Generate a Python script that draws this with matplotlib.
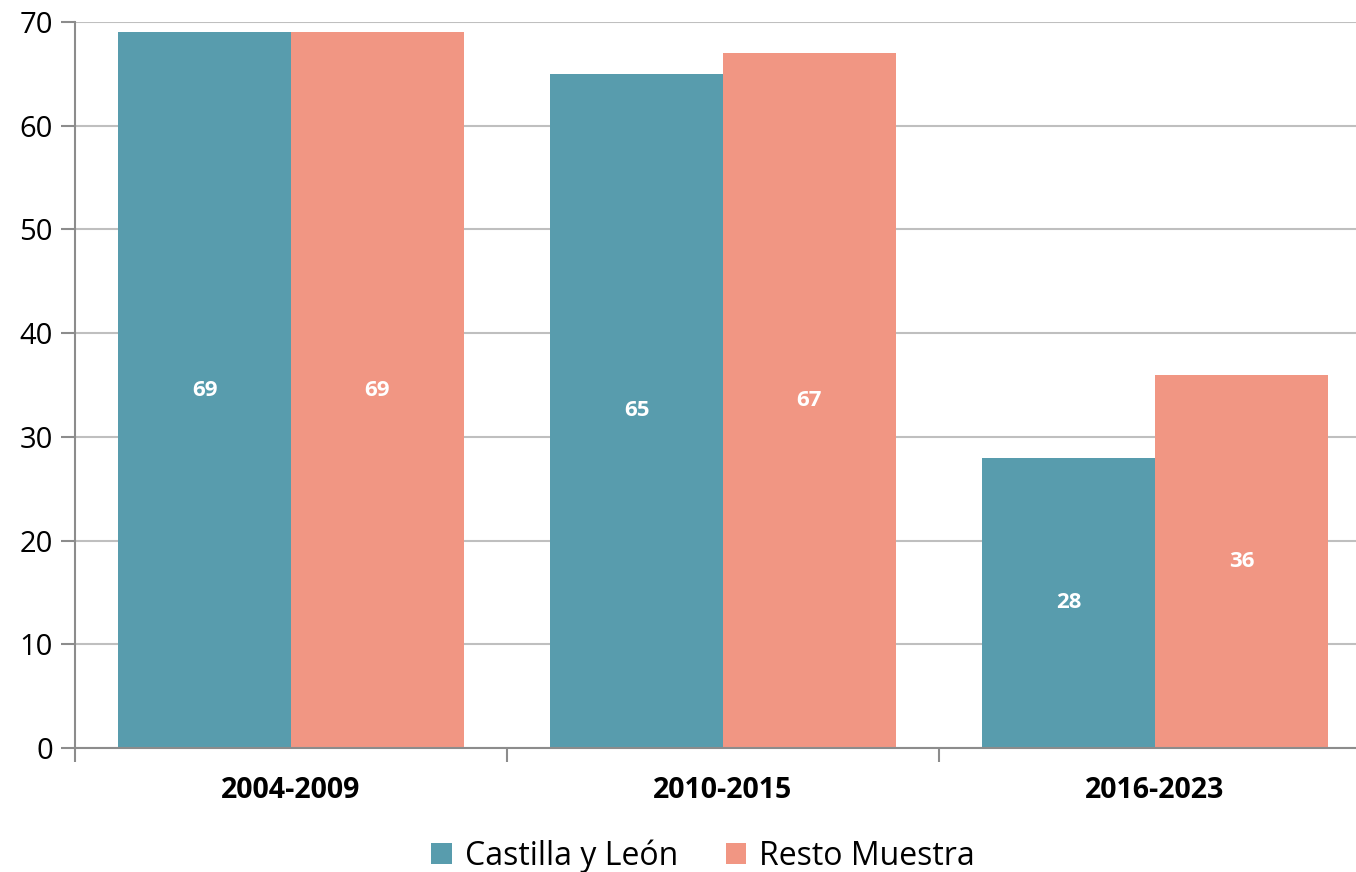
import matplotlib.pyplot as plt
import numpy as np

# data
periods = ['2004-2009', '2010-2015', '2016-2023']
castilla = [69, 65, 28]
resto = [69, 67, 36]
series_names = ['Castilla y León', 'Resto Muestra']

teal = '#589CAD'
salmon = '#F19683'
grid_col = '#BFBFBF'
axis_col = '#8C8C8C'

plt.rcParams['font.family'] = ['Open Sans', 'DejaVu Sans']

fig = plt.figure(figsize=(13.56, 8.72), dpi=100)
ax = fig.add_axes([75/1356, 124/872, (1371-75)/1356, (748-22)/872])

x = np.arange(len(periods))
w = 0.4
b1 = ax.bar(x - w/2, castilla, w, color=teal, label=series_names[0], zorder=2)
b2 = ax.bar(x + w/2, resto, w, color=salmon, label=series_names[1], zorder=2)

for bars in (b1, b2):
    for r in bars:
        h = r.get_height()
        ax.text(r.get_x() + r.get_width()/2, h/2, f'{h:.0f}',
                ha='center', va='center', color='white',
                fontsize=16, fontweight='bold', zorder=3)

ax.set_xlim(-0.5, len(periods) - 0.5)
ax.set_ylim(0, 70)
ax.set_yticks(range(0, 71, 10))
ax.yaxis.grid(True, color=grid_col, linewidth=1.5, zorder=0)
ax.set_axisbelow(True)

# category labels in the middle, ticks on the category borders
ax.set_xticks(x)
ax.set_xticklabels(periods, fontsize=20.5, fontweight='bold')
ax.tick_params(axis='x', length=0, pad=20)
ax.set_xticks(np.arange(-0.5, len(periods), 1), minor=True)
ax.tick_params(axis='x', which='minor', length=10, width=1.5, color=axis_col)
ax.tick_params(axis='y', labelsize=21, length=10, width=1.5,
               color=axis_col, pad=6)

for s in ('top', 'right'):
    ax.spines[s].set_visible(False)
for s in ('left', 'bottom'):
    ax.spines[s].set_color(axis_col)
    ax.spines[s].set_linewidth(1.5)

fig.legend(loc='center', bbox_to_anchor=(703/1356, 16/872), ncol=2,
           frameon=False, fontsize=23, handlelength=0.65, handleheight=0.65,
           handletextpad=0.4, columnspacing=1.5)

fig.savefig('out.png', dpi=100)
